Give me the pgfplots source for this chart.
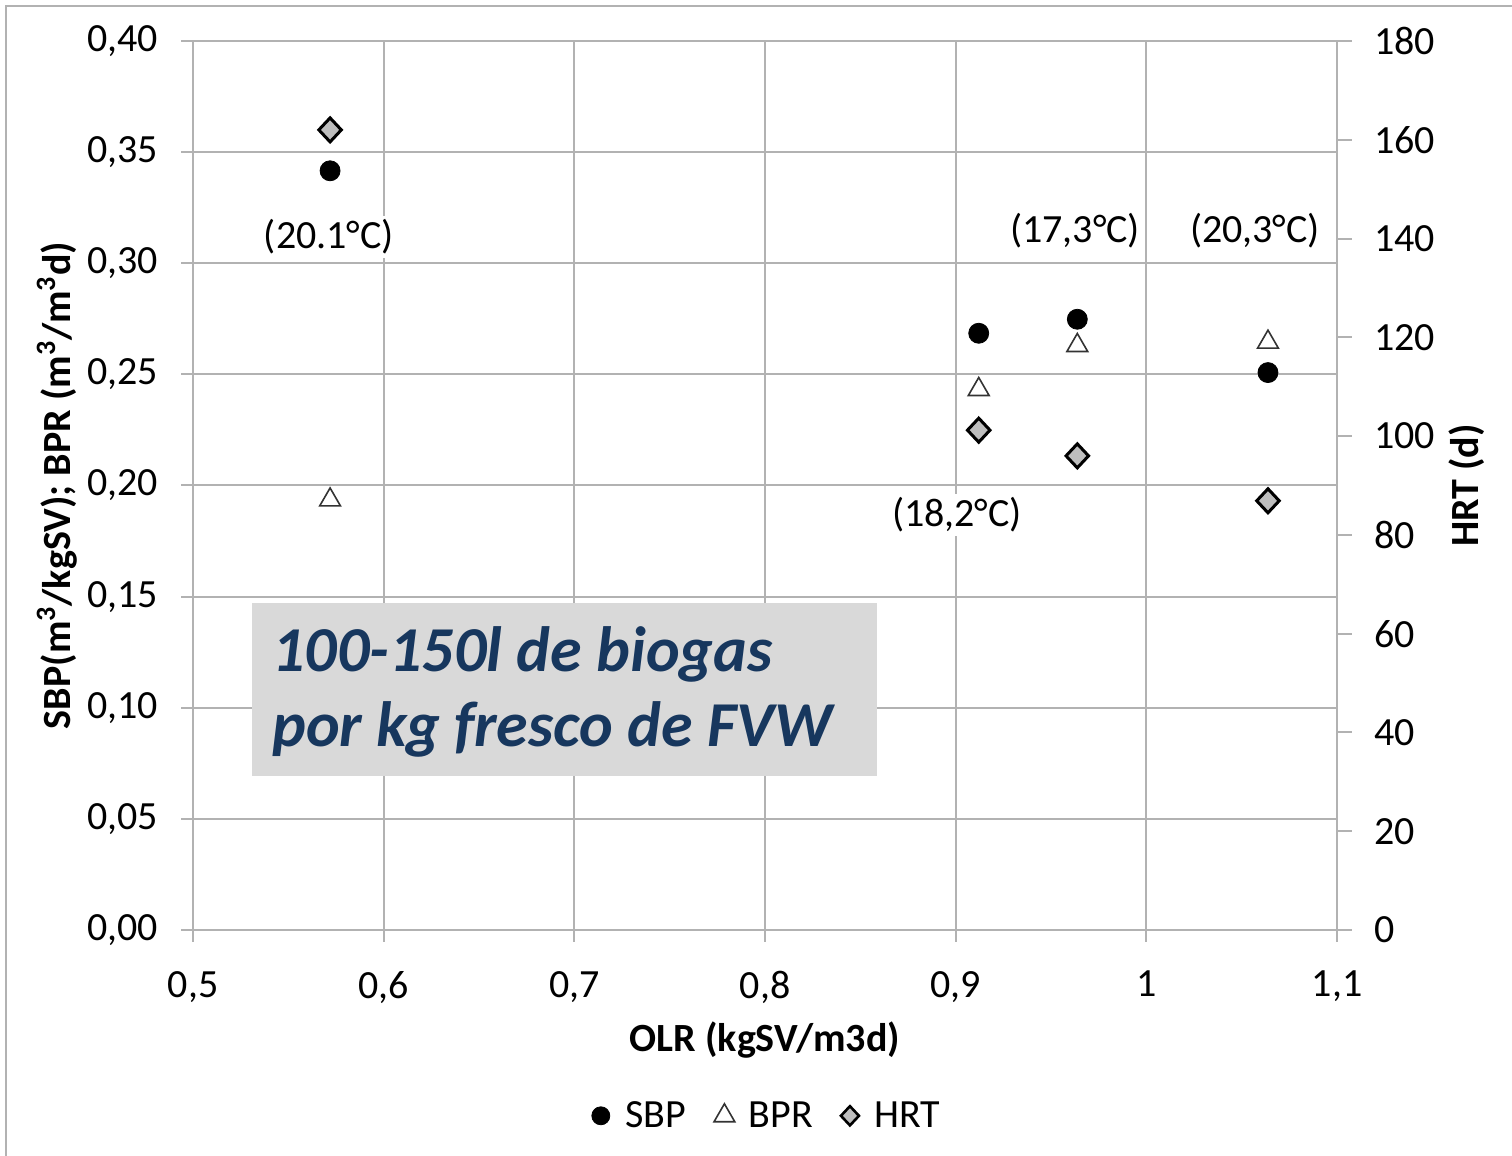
\documentclass[border=0pt]{standalone}
\usepackage{fontspec}
\setmainfont{Carlito}
\usepackage{pgfplots}
\pgfplotsset{compat=1.18}
\definecolor{gridc}{RGB}{178,178,178}
\definecolor{boxblue}{RGB}{23,55,94}
\definecolor{boxgray}{RGB}{217,217,217}
\definecolor{hrtfill}{RGB}{190,190,190}
\begin{document}
\begin{tikzpicture}
\useasboundingbox (0,0) rectangle (756pt,578pt);
\draw[gridc, line width=1pt] (3pt,0) -- (3pt,575pt) -- (756pt,575pt);
\begin{axis}[
  at={(96.5pt,113pt)}, anchor=south west,
  scale only axis, width=572pt, height=444.5pt,
  xmin=0.5, xmax=1.1, ymin=0, ymax=0.4,
  xtick={0.5,0.6,0.7,0.8,0.9,1,1.1},
  ytick={0,0.05,0.1,0.15,0.2,0.25,0.3,0.35,0.4},
  grid=major, grid style={gridc, line width=1pt},
  axis line style={gridc, line width=1pt},
  tick style={gridc, line width=1pt},
  tick align=outside, major tick length=6pt,
  tick pos=left,
  font=\fontsize{20}{24}\selectfont,
  /pgf/number format/assume math mode=true,
  x tick label style={yshift=-11pt, /pgf/number format/.cd, use comma, fixed, precision=1},
  y tick label style={xshift=-8pt, /pgf/number format/.cd, use comma, fixed, fixed zerofill, precision=2},
  xlabel={\bfseries OLR (kgSV/m3d)},
  every axis x label/.style={at={(axis description cs:0.5,-0.1237)}, anchor=center},
  ylabel={\bfseries SBP(m\textsuperscript{3}/kgSV); BPR (m\textsuperscript{3}/m\textsuperscript{3}d)},
  every axis y label/.style={at={(axis description cs:-0.1189,0.5)}, anchor=center, rotate=90},
]
\addplot[only marks, mark=*, mark size=5pt, black] coordinates {(0.5719,0.3416) (0.9121,0.2685) (0.9638,0.2748) (1.0638,0.2508)};
\addplot[only marks, mark=triangle, mark size=6pt, mark options={draw=black!80, fill=white, line width=0.8pt}] coordinates {(0.5719,0.1935) (0.9121,0.2432) (0.9638,0.2630) (1.0638,0.2645)};
\node[fill=white, inner sep=2pt, text=black] at (axis cs:0.5713,0.3118) {(20.1°C)};
\node[fill=white, inner sep=2pt, text=black] at (axis cs:0.9626,0.3145) {(17,3°C)};
\node[fill=white, inner sep=2pt, text=black] at (axis cs:1.057,0.3145) {(20,3°C)};
\node[fill=white, inner sep=2pt, text=black] at (axis cs:0.9007,0.1867) {(18,2°C)};
\end{axis}
\begin{axis}[
  at={(96.5pt,113pt)}, anchor=south west,
  scale only axis, width=572pt, height=444.5pt,
  xmin=0.5, xmax=1.1, ymin=0, ymax=180,
  axis x line=none, axis y line*=right,
  ytick={0,20,...,180},
  axis line style={gridc, line width=1pt},
  tick style={gridc, line width=1pt},
  tick align=outside, major tick length=7.5pt,
  font=\fontsize{20}{24}\selectfont,
  /pgf/number format/assume math mode=true,
  y tick label style={xshift=7.5pt},
  ylabel={\bfseries HRT (d)},
  every axis y label/.style={at={(axis description cs:1.1136,0.5)}, anchor=center, rotate=90},
  legend columns=3,
  legend style={at={(0.5026,-0.209)}, anchor=center, draw=none, fill=none,
    font=\fontsize{20}{24}\selectfont,
    /tikz/every even column/.append style={column sep=12pt}},
  legend image code/.code={\draw[#1] plot coordinates {(0pt,0pt)}; \path (10pt,0pt);},
]
\addlegendimage{only marks, mark=*, mark size=4.5pt, black}
\addlegendentry{SBP}
\addlegendimage{only marks, mark=triangle, mark size=6pt, mark options={draw=black!80, fill=white, line width=0.8pt}}
\addlegendentry{BPR}
\addlegendimage{only marks, mark=diamond*, mark size=4.8pt, mark options={draw=black, fill=hrtfill, line width=1.3pt, xscale=1.25}}
\addlegendentry{HRT}
\addplot[only marks, mark=diamond*, mark size=6pt, mark options={draw=black, fill=hrtfill, line width=1.5pt, xscale=1.25}, forget plot] coordinates {(0.5719,162.0) (0.9121,101.2) (0.9638,96.0) (1.0638,86.9)};
\end{axis}
\fill[boxgray] (126pt,190pt) rectangle (438.5pt,276.5pt);
\node[anchor=base west, inner sep=0pt, text=boxblue, font=\fontsize{32}{40}\selectfont\bfseries\itshape] at (136pt,242pt) {100-150l de biogas};
\node[anchor=base west, inner sep=0pt, text=boxblue, font=\fontsize{32}{40}\selectfont\bfseries\itshape] at (136pt,204.5pt) {por kg fresco de FVW};
\end{tikzpicture}
\end{document}
